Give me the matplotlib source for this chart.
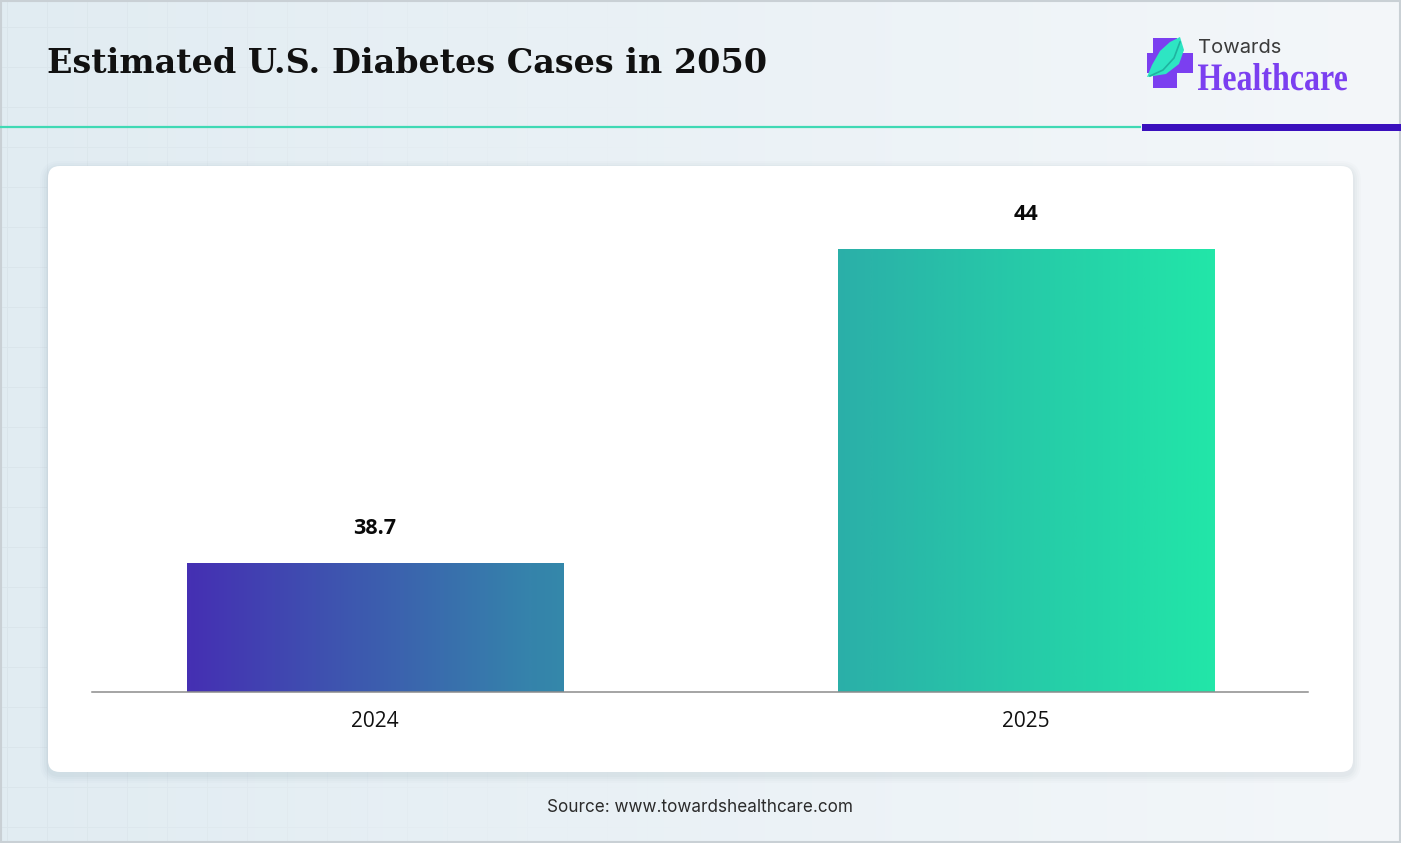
import numpy as np
import matplotlib
matplotlib.use('Agg')
import matplotlib.pyplot as plt
from matplotlib.patches import FancyBboxPatch, Rectangle, Polygon, PathPatch
from matplotlib.colors import LinearSegmentedColormap
from matplotlib.textpath import TextPath
from matplotlib.font_manager import FontProperties
from matplotlib.transforms import Affine2D

# data
years = ['2024', '2025']
cases = [38.7, 44]
value_labels = ['38.7', '44']

W, H = 1401, 843
fig = plt.figure(figsize=(W / 100, H / 100), dpi=100)

# background layer in pixel coords
bg = fig.add_axes([0, 0, 1, 1], zorder=0)
bg.set_xlim(0, W)
bg.set_ylim(H, 0)
bg.axis('off')

xx, yy = np.meshgrid(np.arange(W), np.arange(H))
t = xx / W
left = np.array([225, 236, 242]) / 255
right = np.array([244, 247, 250]) / 255
img = left[None, None, :] * (1 - t[..., None]) + right[None, None, :] * t[..., None]
grid = ((xx % 40 == 7) | (yy % 40 == 27)).astype(float)
fade = np.clip(1 - xx / 700, 0, 1)
img = img - (grid * fade * 0.025)[..., None]
bg.imshow(img, extent=(0, W, H, 0), aspect='auto', zorder=0)
bg.add_patch(Rectangle((0.5, 0.5), W - 1.5, H - 1.5, fill=False, ec='#c9d0d5', lw=1.5, zorder=1))

# header
title = fig.text(47 / W, 1 - 73 / H, 'Estimated U.S. Diabetes Cases in 2050', fontsize=24,
                 fontweight='bold', family='DejaVu Serif', color='#111111', va='baseline')
renderer = fig.canvas.get_renderer()
tw = title.get_window_extent(renderer).width
title.set_fontsize(24 * 721 / tw)

bg.plot([0, 1141], [127, 127], color='#3fd9b4', lw=1.6, zorder=2, solid_capstyle='butt')
bg.add_patch(Rectangle((1142, 123.5), W - 1142, 7, color='#3a10bd', zorder=2, lw=0))

# logo
bg.add_patch(Rectangle((1147, 53), 46, 20, color='#7b3ff0', zorder=3, lw=0))
bg.add_patch(Rectangle((1153, 38), 24, 50, color='#7b3ff0', zorder=3, lw=0))
leaf = [(1180, 37), (1184, 50), (1179, 64), (1166, 74), (1147, 77),
        (1152, 65), (1160, 51), (1170, 42)]
bg.add_patch(Polygon(leaf, closed=True, color='#2ee5c3', zorder=4, lw=0))
bg.plot([1150, 1163, 1174, 1180], [76, 70, 58, 42], color='#1fb3a0', lw=1.2, zorder=5)
fig.text(1198 / W, 1 - 53 / H, 'Towards', fontsize=14.5, family='Inter', color='#3b3b3b',
         va='baseline')
hp = TextPath((0, 0), 'Healthcare', size=10,
              prop=FontProperties(family='Liberation Serif', weight='bold'))
ext = hp.get_extents()
sx = 149 / ext.width
sy = 27 / ext.y1
tr = Affine2D().translate(-ext.x0, 0).scale(sx, -sy).translate(1198, 90) + bg.transData
bg.add_patch(PathPatch(hp, transform=tr, fc='#7b3ff0', ec='none', zorder=4))

# card with soft shadow
for i, a in enumerate([0.02, 0.025, 0.03, 0.035]):
    g = 8 - 2 * i
    bg.add_patch(FancyBboxPatch((48 - g, 166 - g + 3), 1305 + 2 * g, 606 + 2 * g,
                                boxstyle='round,pad=0,rounding_size=%d' % (12 + g),
                                fc='#5a7a8c', ec='none', alpha=a, zorder=5))
bg.add_patch(FancyBboxPatch((48, 166), 1305, 606, boxstyle='round,pad=0,rounding_size=12',
                            fc='white', ec='none', zorder=6))

fig.text(700 / W, 1 - 807 / H, 'Source: www.towardshealthcare.com',
         fontsize=12.3, family='Inter', color='#2b2b2b', ha='center', va='center')

# chart
ax_left, ax_right, ax_bottom, ax_top = 92, 1308, 692, 200
ax = fig.add_axes([ax_left / W, 1 - ax_bottom / H, (ax_right - ax_left) / W,
                   (ax_bottom - ax_top) / H], zorder=2)
ax.patch.set_alpha(0)

ymin = 36.52
ymax = ymin + (ax_bottom - ax_top) / 59.25
ax.set_ylim(ymin, ymax)
xlo, xhi = -0.4347, 1.4332
ax.set_xlim(xlo, xhi)

x = np.arange(len(years))
bw = 0.578
cmap = LinearSegmentedColormap.from_list('bar', ['#4530b3', '#3583ab', '#2ab4a8', '#22e6a8'])
bars = ax.bar(x, cases, width=bw, bottom=0, color='none', edgecolor='none')
g0, g1 = x[0] - bw / 2, x[-1] + bw / 2
grad = np.linspace(0, 1, 512)[None, :]
for b in bars:
    bx0 = b.get_x()
    bx1 = bx0 + b.get_width()
    f0 = (bx0 - g0) / (g1 - g0)
    f1 = (bx1 - g0) / (g1 - g0)
    im = ax.imshow(f0 + grad * (f1 - f0), cmap=cmap, vmin=0, vmax=1, aspect='auto',
                   extent=(bx0, bx1, ymin, b.get_height()), zorder=2)
    im.set_clip_path(b)

for xi, v, lab in zip(x, cases, value_labels):
    ax.annotate(lab, (xi, v), xytext=(0, 24.5), textcoords='offset points', ha='center',
                va='center', fontsize=15.5, fontweight='bold', family='Open Sans', color='#0a0a0a')

ax.set_xticks(x)
ax.set_xticklabels(years, fontsize=15, family='Open Sans', color='#111111')
ax.tick_params(axis='x', length=0, pad=14)
ax.set_yticks([])
for s in ['top', 'right', 'left']:
    ax.spines[s].set_visible(False)
ax.spines['bottom'].set_color('#8c8c8c')
ax.spines['bottom'].set_linewidth(1.1)
ax.spines['bottom'].set_zorder(3)

fig.savefig('out.png', dpi=100)
